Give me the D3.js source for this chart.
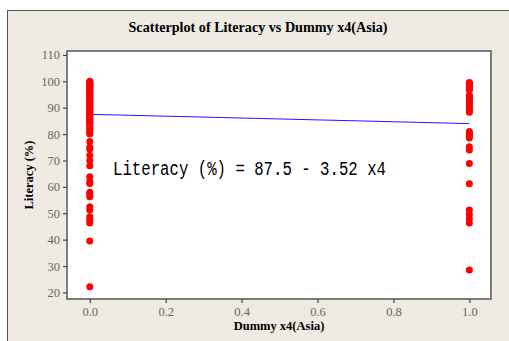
<!DOCTYPE html>
<html lang="en">
    <head>
        <meta charset="utf-8">
        <title>Scatterplot of Literacy vs Dummy x4(Asia)</title>
        <style>
            body { margin: 0; background: #ffffff; }
            text { font-family: "Liberation Serif", "DejaVu Serif", serif; }
        </style>
        <script src="https://cdn.jsdelivr.net/npm/d3@7/dist/d3.min.js"></script>
    </head>
    <body>
        <script>
            /* literacy values, one list per dummy value */
            var nonAsia = [100, 99.8, 99.5, 99.3, 99, 98.7, 98.5, 98.2, 98, 97.8, 97.5, 97, 96.7, 96.5, 96,
                95.5, 95, 94.5, 94, 93.5, 93, 92.5, 92, 91.5, 91, 90.5, 90, 89.5, 89, 88.5, 88, 87.5, 87,
                86.5, 86, 85.5, 85, 84.5, 84, 83.5, 82.5, 82, 81.5, 80.5, 80, 77.2, 75, 74.4, 72, 70, 68,
                63.8, 62, 61.3, 58, 57, 56.3, 52.5, 51.2, 48.7, 47.5, 46.3, 39.5, 22.1];
            var asia = [99.6, 99.2, 98.7, 98.2, 97.6, 97, 96.8, 94.7, 94.1, 93.5, 92.8, 92, 91.4, 90.7,
                90, 89.2, 88.3, 81, 80.3, 79.5, 78.5, 75.2, 74, 68.9, 61.2, 51.2, 49.5, 47.8, 46.3, 28.5];
            var xTicks = [0, 0.2, 0.4, 0.6, 0.8, 1.0];
            var yTicks = [20, 30, 40, 50, 60, 70, 80, 90, 100, 110];
            var intercept = 87.5, slope = -3.52;

            var points = nonAsia.map(function(v) { return {x: 0, y: v}; })
                .concat(asia.map(function(v) { return {x: 1, y: v}; }));

            var W = 509, H = 341;
            var margin = {top: 51, right: 18, bottom: 42, left: 67};
            var width = W - margin.left - margin.right;
            var height = H - margin.top - margin.bottom;

            var svg = d3.select("body").append("svg")
                .attr("width", W)
                .attr("height", H);

            /* outer frame */
            svg.append("rect")
                .attr("x", 7.5).attr("y", 10.5)
                .attr("width", W + 10).attr("height", H + 10)
                .attr("fill", "#efebe2")
                .attr("stroke", "#555")
                .attr("stroke-width", 1);

            svg.append("text")
                .attr("x", 258)
                .attr("y", 32)
                .attr("text-anchor", "middle")
                .style("font-size", "14px")
                .style("font-weight", "bold")
                .attr("textLength", 259)
                .attr("lengthAdjust", "spacingAndGlyphs")
                .text("Scatterplot of Literacy vs Dummy x4(Asia)");

            var g = svg.append("g")
                .attr("transform", "translate(" + margin.left + "," + margin.top + ")");

            var x = d3.scaleLinear().domain([-0.06, 1.057]).range([0, width]);
            var y = d3.scaleLinear().domain([17.5, 111.5]).range([height, 0]);

            g.append("rect")
                .attr("width", width)
                .attr("height", height)
                .attr("fill", "#ffffff")
                .attr("stroke", "#555")
                .attr("stroke-width", 1.5);

            var xAxis = g.append("g")
                .attr("transform", "translate(0," + height + ")")
                .call(d3.axisBottom(x).tickValues(xTicks).tickFormat(d3.format(".1f")).tickSize(4).tickPadding(4));
            var yAxis = g.append("g")
                .call(d3.axisLeft(y).tickValues(yTicks).tickSize(4).tickPadding(3));

            [xAxis, yAxis].forEach(function(a) {
                a.select(".domain").remove();
                a.selectAll("line").attr("stroke", "#444").attr("stroke-width", 1.2);
                a.selectAll("text")
                    .attr("fill", "#666")
                    .style("font-family", "'Liberation Serif', serif")
                    .style("font-size", "12.5px");
            });

            /* fitted line */
            g.append("line")
                .attr("x1", x(0)).attr("y1", y(intercept))
                .attr("x2", x(1)).attr("y2", y(intercept + slope))
                .attr("stroke", "#1a1aff")
                .attr("stroke-width", 1);

            g.selectAll(".dot")
                .data(points)
                .enter().append("circle")
                .attr("class", "dot")
                .attr("cx", function(d) { return x(d.x); })
                .attr("cy", function(d) { return y(d.y); })
                .attr("r", 3.5)
                .attr("fill", "#ff0000");

            g.append("text")
                .attr("x", 46)
                .attr("y", 124)
                .style("font-family", "'Liberation Mono', 'DejaVu Sans Mono', monospace")
                .style("font-size", "19.5px")
                .attr("textLength", 273)
                .attr("lengthAdjust", "spacingAndGlyphs")
                .text("Literacy (%) = 87.5 - 3.52 x4");

            svg.append("text")
                .attr("x", margin.left + width / 2)
                .attr("y", 330)
                .attr("text-anchor", "middle")
                .style("font-size", "12.5px")
                .style("font-weight", "bold")
                .text("Dummy x4(Asia)");

            svg.append("text")
                .attr("transform", "translate(33," + (margin.top + height / 2) + ") rotate(-90)")
                .attr("text-anchor", "middle")
                .style("font-size", "12.5px")
                .style("font-weight", "bold")
                .text("Literacy (%)");
        </script>
    </body>
</html>
